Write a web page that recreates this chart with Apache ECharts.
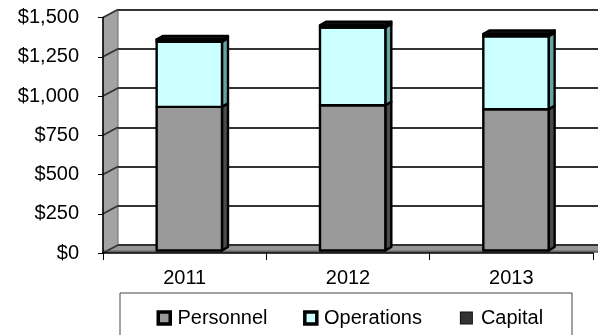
<!DOCTYPE html>
<html>
<head>
<meta charset="utf-8">
<script src="https://cdn.jsdelivr.net/npm/echarts@6/dist/echarts.min.js"></script>
<style>
  html, body { margin: 0; padding: 0; background: #fff; }
  #chart { width: 598px; height: 335px; }
</style>
</head>
<body>
<div id="chart"></div>
<script>
// Budget by year, stacked
const categories = ['2011', '2012', '2013'];
const personnel = [915, 925, 900];
const operations = [415, 495, 465];
const capital = [14, 14, 14];
const yTickValues = [0, 250, 500, 750, 1000, 1250, 1500];

// Front plane of the plot box, and the depth shift to the back wall
const FRONT = { left: 103, top: 17.5, bottom: 253, right: 593 };
const DEPTH = { x: 15, y: -8 };
// Bars sit part-way into the box and have their own depth
const BAR_POS = 0.31;
const BAR_DEPTH = { x: 6, y: -3.6 };
const BAR_RATIO = 0.4;
const FONT = 'Liberation Sans, Arial, sans-serif';

const SERIES_COLORS = {
  Personnel: { face: '#999999', side: '#4a4a4a' },
  Operations: { face: '#ccffff', side: '#66a3a3' },
  Capital: { face: '#222222', side: '#111111' }
};

function stackRows(base, vals) {
  return vals.map((v, i) => [i, base[i], base[i] + v]);
}
const base0 = categories.map(() => 0);
const base1 = personnel.slice();
const base2 = personnel.map((v, i) => v + operations[i]);

function boxRenderer(face, side, top) {
  return function (params, api) {
    const i = api.value(0), lo = api.value(1), hi = api.value(2);
    const pLo = api.coord([i, lo]);
    const pHi = api.coord([i, hi]);
    const w = api.size([1, 0])[0] * BAR_RATIO;
    const ox = DEPTH.x * BAR_POS, oy = DEPTH.y * BAR_POS;
    const x0 = pLo[0] - w / 2 + ox, x1 = x0 + w;
    const yB = pLo[1] + oy, yT = pHi[1] + oy;
    const dx = BAR_DEPTH.x, dy = BAR_DEPTH.y;
    const stroke = { stroke: '#000', lineWidth: 2.4, lineJoin: 'round' };
    const children = [
      { type: 'polygon', shape: { points: [[x1, yB], [x1 + dx, yB + dy], [x1 + dx, yT + dy], [x1, yT]] },
        style: Object.assign({ fill: side }, stroke) },
      { type: 'rect', shape: { x: x0, y: yT, width: w, height: yB - yT },
        style: Object.assign({ fill: face }, stroke) }
    ];
    if (top) {
      children.push({ type: 'polygon', shape: { points: [[x0, yT], [x0 + dx, yT + dy], [x1 + dx, yT + dy], [x1, yT]] },
        style: Object.assign({ fill: top }, stroke) });
    }
    return { type: 'group', children: children };
  };
}

const chart = echarts.init(document.getElementById('chart'), null, { renderer: 'canvas' });

const legendMarker = (fill, border, bw) => ({
  width: 12 - bw, height: 12 - bw, backgroundColor: fill, borderColor: border, borderWidth: bw
});

const option = {
  animation: false,
  backgroundColor: '#fff',
  grid: [
    { left: FRONT.left, top: FRONT.top, width: FRONT.right - FRONT.left, height: FRONT.bottom - FRONT.top },
    { left: FRONT.left + DEPTH.x, top: FRONT.top + DEPTH.y, width: 500, height: FRONT.bottom - FRONT.top }
  ],
  xAxis: [
    {
      type: 'category', gridIndex: 0, data: categories, boundaryGap: true,
      axisLine: { lineStyle: { color: '#000', width: 1.5 } },
      axisTick: { show: true, length: 7, inside: false, lineStyle: { color: '#000' } },
      axisLabel: { color: '#000', fontSize: 20, fontFamily: FONT, margin: 15 }
    },
    { type: 'category', gridIndex: 1, data: categories, show: false }
  ],
  yAxis: [
    {
      type: 'value', gridIndex: 0, min: 0, max: 1500, interval: 250,
      axisLine: { show: true, lineStyle: { color: '#000', width: 1.5 } },
      axisTick: { show: true, length: 5, lineStyle: { color: '#000' } },
      splitLine: { show: false },
      axisLabel: {
        color: '#000', fontSize: 20, fontFamily: FONT, margin: 24,
        formatter: v => '$' + v.toLocaleString('en-US')
      }
    },
    {
      type: 'value', gridIndex: 1, min: 0, max: 1500, interval: 250,
      axisLine: { show: false }, axisTick: { show: false }, axisLabel: { show: false },
      splitLine: { show: true, lineStyle: { color: '#333', width: 1.8 } }
    }
  ],
  legend: {
    left: 150, top: 303, icon: 'none', itemWidth: 0, itemHeight: 12, itemGap: 34,
    formatter: name => '{' + name + '|}{gap|}' + name,
    textStyle: {
      color: '#000', fontSize: 20, fontFamily: FONT,
      rich: {
        Personnel: legendMarker('#999999', '#000', 3.5),
        Operations: legendMarker('#ccffff', '#000', 3.5),
        Capital: legendMarker('#333333', '#111', 1),
        gap: { width: 9 }
      }
    },
    data: ['Personnel', 'Operations', 'Capital']
  },
  series: [
    {
      name: 'Personnel', type: 'custom', xAxisIndex: 0, yAxisIndex: 0,
      itemStyle: { color: SERIES_COLORS.Personnel.face },
      encode: { x: 0, y: [1, 2] },
      data: stackRows(base0, personnel),
      renderItem: boxRenderer(SERIES_COLORS.Personnel.face, SERIES_COLORS.Personnel.side, null)
    },
    {
      name: 'Operations', type: 'custom', xAxisIndex: 0, yAxisIndex: 0,
      itemStyle: { color: SERIES_COLORS.Operations.face },
      encode: { x: 0, y: [1, 2] },
      data: stackRows(base1, operations),
      renderItem: boxRenderer(SERIES_COLORS.Operations.face, SERIES_COLORS.Operations.side, null)
    },
    {
      name: 'Capital', type: 'custom', xAxisIndex: 0, yAxisIndex: 0,
      itemStyle: { color: SERIES_COLORS.Capital.face },
      encode: { x: 0, y: [1, 2] },
      data: stackRows(base2, capital),
      renderItem: boxRenderer(SERIES_COLORS.Capital.face, SERIES_COLORS.Capital.side, '#111111')
    }
  ]
};
chart.setOption(option);

// Side wall, floor and legend frame, placed from the axis scale
const yBottom = chart.convertToPixel({ yAxisIndex: 0 }, 0);
const yTop = chart.convertToPixel({ yAxisIndex: 0 }, 1500);
const L = FRONT.left;
const walls = [
  { type: 'polygon', z: -5, shape: { points: [[L, yTop], [L + DEPTH.x, yTop + DEPTH.y], [L + DEPTH.x, yBottom + DEPTH.y], [L, yBottom]] },
    style: { fill: '#a3a3a3', stroke: '#6a6a6a', lineWidth: 1 } },
  { type: 'polygon', z: -5, shape: { points: [[L, yBottom], [L + DEPTH.x, yBottom + DEPTH.y], [598, yBottom + DEPTH.y], [598, yBottom]] },
    style: { fill: '#969696' } },
  { type: 'line', z: -4, shape: { x1: L, y1: yBottom - 1.5, x2: 598, y2: yBottom - 1.5 },
    style: { stroke: '#666', lineWidth: 2 } }
];
yTickValues.forEach(v => {
  const y = chart.convertToPixel({ yAxisIndex: 0 }, v);
  walls.push({ type: 'line', z: -3, shape: { x1: L, y1: y, x2: L + DEPTH.x, y2: y + DEPTH.y },
    style: { stroke: '#333', lineWidth: 1.8 } });
});
walls.push({ type: 'rect', z: -2, shape: { x: 120, y: 293, width: 452, height: 60 },
  style: { fill: 'none', stroke: '#444', lineWidth: 1 } });
chart.setOption({ graphic: walls });
</script>
</body>
</html>
